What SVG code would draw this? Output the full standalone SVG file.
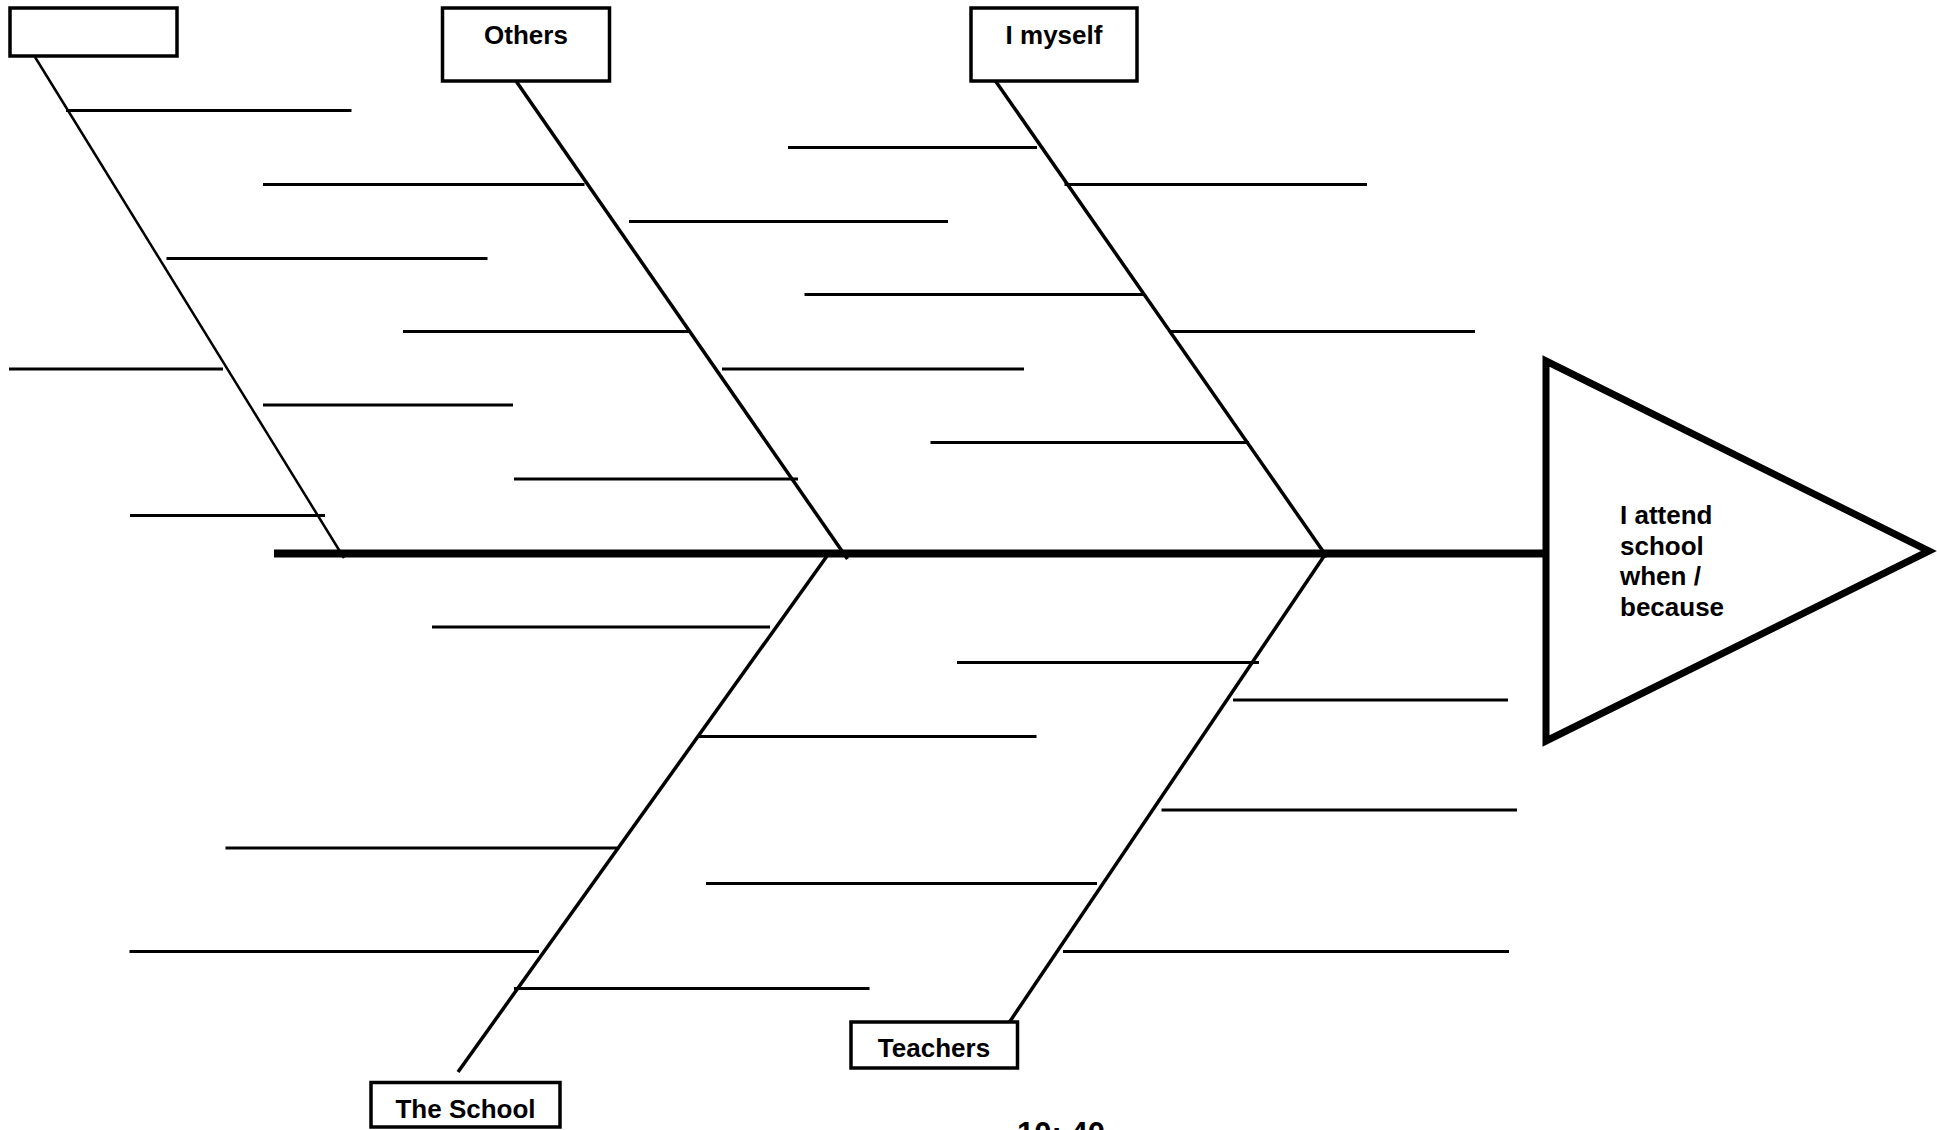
<svg xmlns="http://www.w3.org/2000/svg" width="1937" height="1130" viewBox="0 0 1937 1130">
<style>
.box{fill:#fff;stroke:#000;stroke-width:3.5}
.lbl{font-family:"Liberation Sans",Arial,sans-serif;font-weight:bold;font-size:26px;fill:#000}
.c{text-anchor:middle}
.bone{stroke:#000;stroke-width:3.5;fill:none}
.sub{stroke:#000;stroke-width:3.2;fill:none}
</style>
<rect width="1937" height="1130" fill="#fff"/>
<g id="connectors">
  <line class="bone" x1="274" y1="553.5" x2="1546" y2="553.5" style="stroke-width:8"/>
  <line class="bone" x1="35" y1="57" x2="344" y2="558" style="stroke-width:2.5"/>
  <line class="bone" x1="516" y1="81" x2="847.5" y2="559"/>
  <line class="bone" x1="995.5" y1="81" x2="1327" y2="557"/>
  <line class="bone" x1="827" y1="556" x2="458" y2="1072"/>
  <line class="bone" x1="1327.5" y1="551" x2="1007.5" y2="1025"/>
  <g class="sub">
    <line x1="66" y1="110.5" x2="351.5" y2="110.5"/>
    <line x1="263" y1="184.5" x2="584.5" y2="184.5"/>
    <line x1="166.5" y1="258.5" x2="487.5" y2="258.5"/>
    <line x1="403" y1="331.5" x2="689" y2="331.5"/>
    <line x1="9" y1="369" x2="223" y2="369"/>
    <line x1="722" y1="369" x2="1024" y2="369"/>
    <line x1="263" y1="405" x2="513" y2="405"/>
    <line x1="514" y1="479" x2="798" y2="479"/>
    <line x1="130" y1="515.5" x2="325" y2="515.5"/>
    <line x1="788" y1="147.5" x2="1037" y2="147.5"/>
    <line x1="1064.5" y1="184.5" x2="1367" y2="184.5"/>
    <line x1="629" y1="221.5" x2="948" y2="221.5"/>
    <line x1="804.5" y1="294.5" x2="1143.5" y2="294.5"/>
    <line x1="1171" y1="331.5" x2="1475" y2="331.5"/>
    <line x1="930.5" y1="442.5" x2="1249" y2="442.5"/>
    <line x1="432" y1="627" x2="770" y2="627"/>
    <line x1="957" y1="662.5" x2="1259" y2="662.5"/>
    <line x1="1233" y1="700" x2="1508" y2="700"/>
    <line x1="698" y1="736.5" x2="1036.5" y2="736.5"/>
    <line x1="1161.5" y1="810" x2="1517" y2="810"/>
    <line x1="225.5" y1="848" x2="617" y2="848"/>
    <line x1="706" y1="883.5" x2="1097" y2="883.5"/>
    <line x1="129.5" y1="951.5" x2="539" y2="951.5"/>
    <line x1="1063" y1="951.5" x2="1509" y2="951.5"/>
    <line x1="514" y1="988.5" x2="869.5" y2="988.5"/>
  </g>
</g>
<g id="node-blank">
  <rect class="box" x="10" y="8" width="167" height="48"/>
</g>
<g id="node-others">
  <rect class="box" x="442.5" y="8" width="167" height="73"/>
  <text class="lbl c" x="526" y="44">Others</text>
</g>
<g id="node-myself">
  <rect class="box" x="971" y="8" width="166" height="73"/>
  <text class="lbl c" x="1054" y="44">I myself</text>
</g>
<g id="node-teachers">
  <rect class="box" x="851" y="1022" width="166.5" height="46"/>
  <text class="lbl c" x="934" y="1057">Teachers</text>
</g>
<g id="node-school">
  <rect class="box" x="371" y="1082.5" width="189" height="44.5"/>
  <text class="lbl c" x="465.5" y="1117.5">The School</text>
</g>
<g id="node-effect">
  <polygon points="1546,361 1929,551 1546,741" fill="#fff" stroke="#000" stroke-width="7" stroke-linejoin="miter"/>
  <text class="lbl"><tspan x="1620" y="523.5">I attend</tspan><tspan x="1620" y="554.5">school</tspan><tspan x="1620" y="585">when /</tspan><tspan x="1620" y="616">because</tspan></text>
</g>
<g id="footer">
  <text class="lbl c" x="1061" y="1144" style="font-size:31px">10: 40</text>
</g>
</svg>
